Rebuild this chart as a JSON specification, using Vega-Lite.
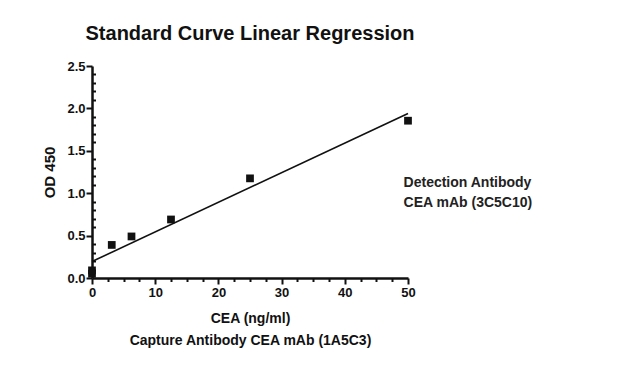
{
  "$schema": "https://vega.github.io/schema/vega-lite/v6.json",
  "autosize": {"type": "none"},
  "padding": {"left": 92, "top": 66, "right": 210, "bottom": 87},
  "width": 316,
  "height": 212,
  "background": "white",
  "config": {
    "font": "Liberation Sans",
    "view": {"stroke": null}
  },
  "title": {
    "text": "Standard Curve Linear Regression",
    "fontSize": 20,
    "fontWeight": "bold",
    "color": "#111",
    "anchor": "middle",
    "offset": 16
  },
  "datasets": {
    "pts": [
      {"conc": 0, "od": 0.05},
      {"conc": 0, "od": 0.09},
      {"conc": 3.125, "od": 0.39},
      {"conc": 6.25, "od": 0.49},
      {"conc": 12.5, "od": 0.69},
      {"conc": 25, "od": 1.175},
      {"conc": 50, "od": 1.855}
    ],
    "note": [
      {"conc": 49.3, "od": 1.12, "label": "Detection Antibody"},
      {"conc": 49.3, "od": 0.88, "label": "CEA mAb (3C5C10)"}
    ]
  },
  "resolve": {"axis": {"x": "independent", "y": "independent"}},
  "layer": [
    {
      "data": {"name": "pts"},
      "transform": [{"regression": "od", "on": "conc", "extent": [0, 50]}],
      "mark": {"type": "line", "color": "#111", "strokeWidth": 1.6},
      "encoding": {
        "x": {
          "field": "conc", "type": "quantitative",
          "scale": {"domain": [0, 50], "nice": false},
          "axis": {
            "orient": "bottom",
            "values": [2.5, 5, 7.5, 12.5, 15, 17.5, 22.5, 25, 27.5, 32.5, 35, 37.5, 42.5, 45, 47.5],
            "labels": false,
            "domain": false,
            "grid": false,
            "title": null,
            "tickColor": "#111",
            "tickWidth": 2,
            "tickSize": 3.5
          }
        },
        "y": {
          "field": "od", "type": "quantitative",
          "scale": {"domain": [0, 2.5], "nice": false},
          "axis": {
            "orient": "left",
            "values": [0.1, 0.2, 0.3, 0.4, 0.6, 0.7, 0.8, 0.9, 1.1, 1.2, 1.3, 1.4, 1.6, 1.7, 1.8, 1.9, 2.1, 2.2, 2.3, 2.4],
            "labels": false,
            "domain": false,
            "grid": false,
            "title": null,
            "tickColor": "#111",
            "tickWidth": 2,
            "tickSize": -3.5
          }
        }
      }
    },
    {
      "data": {"name": "pts"},
      "mark": {"type": "square", "color": "#111", "opacity": 1, "size": 60},
      "encoding": {
        "x": {
          "field": "conc", "type": "quantitative",
          "scale": {"domain": [0, 50], "nice": false},
          "axis": {
            "orient": "bottom",
            "values": [0, 10, 20, 30, 40, 50],
            "format": "d",
            "grid": false,
            "domainColor": "#111",
            "domainWidth": 2.5,
            "tickColor": "#111",
            "tickWidth": 2,
            "tickSize": 6,
            "labelFontSize": 13,
            "labelFontWeight": "bold",
            "labelColor": "#111",
            "labelPadding": 2,
            "labelFlush": false,
            "labelOverlap": false,
            "title": ["CEA (ng/ml)", "Capture Antibody CEA mAb (1A5C3)"],
            "titleFontSize": 14,
            "titleFontWeight": "bold",
            "titleColor": "#111",
            "titleLineHeight": 22,
            "titlePadding": 12
          }
        },
        "y": {
          "field": "od", "type": "quantitative",
          "scale": {"domain": [0, 2.5], "nice": false},
          "axis": {
            "orient": "left",
            "values": [0, 0.5, 1, 1.5, 2, 2.5],
            "format": ".1f",
            "grid": false,
            "domainColor": "#111",
            "domainWidth": 2.5,
            "tickColor": "#111",
            "tickWidth": 2,
            "tickSize": 6,
            "labelFontSize": 13,
            "labelFontWeight": "bold",
            "labelColor": "#111",
            "labelPadding": 1,
            "labelFlush": false,
            "labelOverlap": false,
            "title": "OD 450",
            "titleFontSize": 15,
            "titleFontWeight": "bold",
            "titleColor": "#111",
            "titlePadding": 9
          }
        }
      }
    },
    {
      "data": {"name": "note"},
      "mark": {"type": "text", "align": "left", "baseline": "middle", "fontSize": 14, "fontWeight": "bold", "color": "#222"},
      "encoding": {
        "x": {"field": "conc", "type": "quantitative", "axis": null},
        "y": {"field": "od", "type": "quantitative", "axis": null},
        "text": {"field": "label", "type": "nominal"}
      }
    }
  ]
}
